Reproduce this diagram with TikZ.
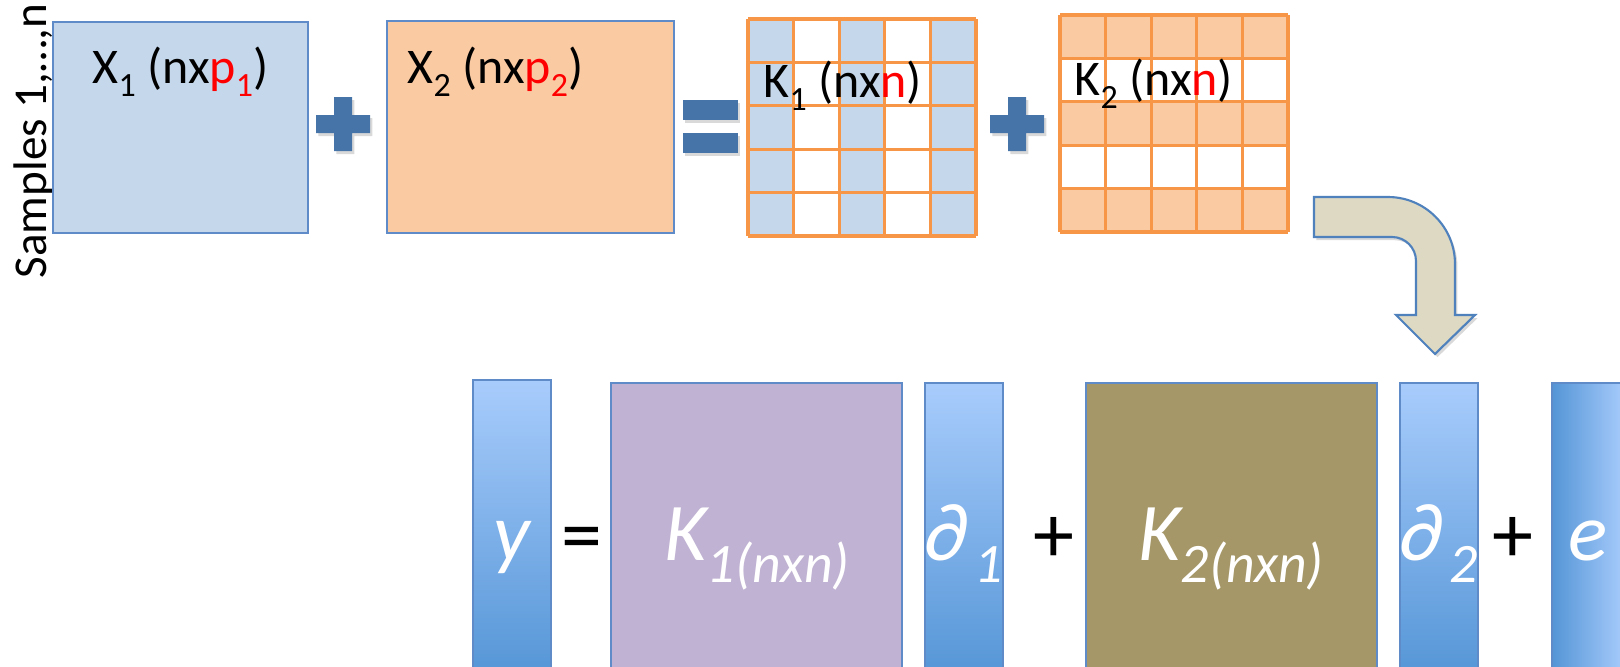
\documentclass[tikz,border=0pt]{standalone}
\usepackage{fontspec}
\setmainfont{Carlito}
\usepackage{graphicx}
\usepackage{xcolor}
\usetikzlibrary{shadows}
\definecolor{matblue}{RGB}{197,215,235}
\definecolor{matorange}{RGB}{250,202,163}
\definecolor{boxline}{RGB}{95,140,200}
\definecolor{gridorange}{RGB}{247,150,70}
\definecolor{labelred}{RGB}{255,0,0}
\definecolor{kpurple}{RGB}{192,178,210}
\definecolor{kolive}{RGB}{165,151,104}
\definecolor{barlight}{RGB}{168,204,252}
\definecolor{bardark}{RGB}{84,149,214}
\definecolor{signblue}{RGB}{70,116,168}
\definecolor{arrowfill}{RGB}{221,217,195}
\definecolor{arrowline}{RGB}{79,129,189}
\newcommand{\lowsub}[1]{\raisebox{-0.27em}{\scalebox{0.68}{#1}}}

\begin{document}
\begin{tikzpicture}[x=0.01cm,y=-0.01cm,
    outline/.style={draw=boxline,line width=0.5pt},
    gridline/.style={draw=gridorange,line width=0.9pt},
    toplabel/.style={anchor=base west,inner sep=0pt,font=\fontsize{14.2}{17}\selectfont},
    botlabel/.style={anchor=base,inner sep=0pt,text=white,font=\fontsize{23.3}{28}\selectfont\itshape},
    sign/.style={anchor=base,inner sep=0pt,font=\fontsize{23.3}{28}\selectfont},
    bar/.style={outline,top color=barlight,bottom color=bardark},
    softshadow/.style={drop shadow={shadow xshift=0.7pt,shadow yshift=-0.9pt,opacity=0.3}},
    plusmark/.pic={\fill[signblue,softshadow] (-9,-27) -- (9,-27) -- (9,-9) -- (27,-9) -- (27,9) -- (9,9)
        -- (9,27) -- (-9,27) -- (-9,9) -- (-27,9) -- (-27,-9) -- (-9,-9) -- cycle;}]
    \useasboundingbox (0,0) rectangle (1620,666);
    \clip (0,0) rectangle (1620,666);

    % top row: X1 + X2 = K1 + K2
    \node[rotate=90,anchor=base,inner sep=0pt,font=\fontsize{13.4}{16}\selectfont] (samples) at (46,141) {Samples 1,…,n};
    \draw[outline,fill=matblue] (53,22) rectangle (308,233);
    \node[toplabel] (lx1) at (92,83) {X\lowsub{1} (nx\textcolor{labelred}{p\lowsub{1}})};
    \pic at (343,124) {plusmark};
    \draw[outline,fill=matorange] (387,21) rectangle (674,233);
    \node[toplabel] (lx2) at (407,83) {X\lowsub{2} (nx\textcolor{labelred}{p\lowsub{2}})};
    \fill[signblue,softshadow] (683,100) rectangle (738,120);
    \fill[signblue,softshadow] (683,133) rectangle (738,153);

    \foreach \c in {0,2,4}
        \fill[matblue] ({748+\c*45.6},19) rectangle ++(45.6,217);
    \foreach \i in {0,...,5} {
        \draw[gridline] ({748+\i*45.6},19) -- ++(0,217);
        \draw[gridline] (748,{19+\i*43.4}) -- ++(228,0);
    }
    \node[toplabel] (lk1) at (763,97) {K\lowsub{1} (nx\textcolor{labelred}{n})};
    \pic at (1017,124) {plusmark};

    \foreach \r in {0,2,4}
        \fill[matorange] (1060,{15+\r*43.4}) rectangle ++(228,43.4);
    \foreach \i in {0,...,5} {
        \draw[gridline] ({1060+\i*45.6},15) -- ++(0,217);
        \draw[gridline] (1060,{15+\i*43.4}) -- ++(228,0);
    }
    \node[toplabel] (lk2) at (1074,95) {K\lowsub{2} (nx\textcolor{labelred}{n})};

    % bent arrow
    \draw[draw=arrowline,line width=0.6pt,fill=arrowfill,softshadow] (1314,197) -- (1388,197)
        arc[start angle=-90,end angle=0,radius=67] -- (1455,315) -- (1475,315) -- (1435,354)
        -- (1396,315) -- (1416,315) -- (1416,261) arc[start angle=0,end angle=-90,radius=24]
        -- (1314,237) -- cycle;

    % bottom row: model
    \draw[bar] (473,380) rectangle (551,680);
    \draw[outline,fill=kpurple] (611,383) rectangle (902,680);
    \draw[bar] (925,383) rectangle (1003,680);
    \draw[outline,fill=kolive] (1086,383) rectangle (1377,680);
    \draw[bar] (1400,383) rectangle (1478,680);
    \draw[outline,left color=bardark,right color=barlight] (1552,383) rectangle (1625,680);

    \node[botlabel] (ly) at (512,560) {y};
    \node[sign] (eq) at (582,562) {=};
    \node[botlabel] (lK1) at (757,560) {K\lowsub{1(nxn)}};
    \node[botlabel] (ld1) at (964,560) {∂\kern0.08em\lowsub{1}};
    \node[sign] (pa) at (1054,562) {+};
    \node[botlabel] (lK2) at (1231,560) {K\lowsub{2(nxn)}};
    \node[botlabel] (ld2) at (1439,560) {∂\kern0.08em\lowsub{2}};
    \node[sign] (pb) at (1513,562) {+};
    \node[botlabel] (le) at (1588,560) {e};
\end{tikzpicture}
\end{document}
